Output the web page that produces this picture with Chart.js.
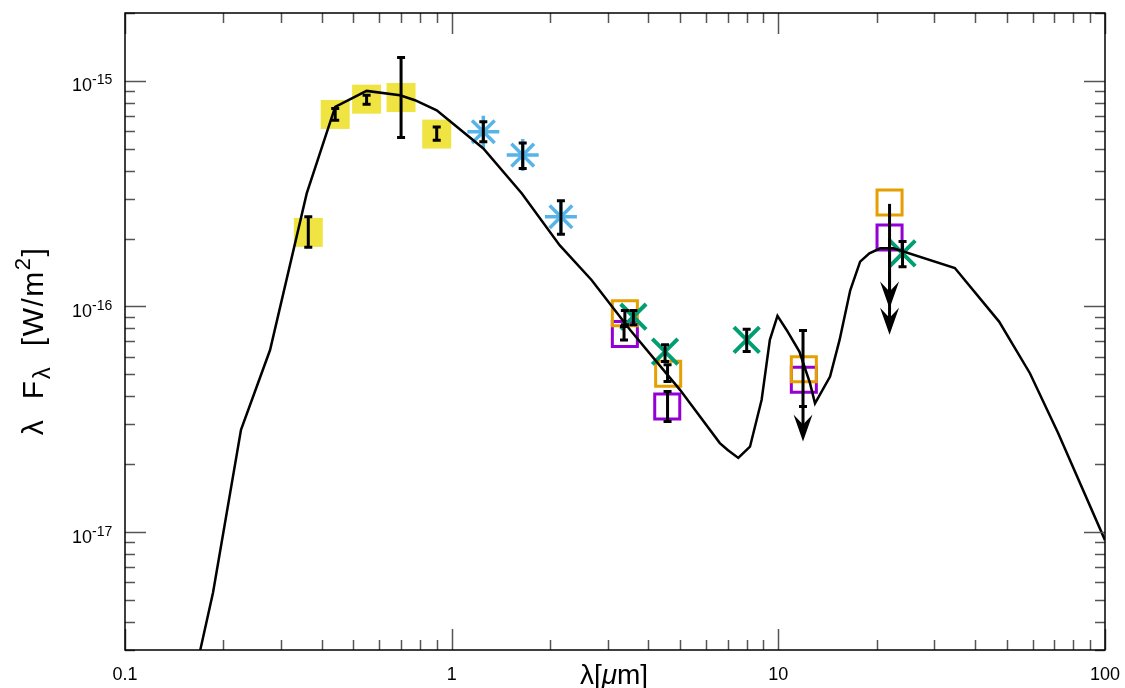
<!DOCTYPE html>
<html>
<head>
<meta charset="utf-8">
<script src="https://cdn.jsdelivr.net/npm/chart.js@4.4.0/dist/chart.umd.min.js"></script>
<style>
  html, body { margin: 0; padding: 0; background: #fff; }
  #wrap { width: 1125px; height: 688px; }
</style>
</head>
<body>
<div id="wrap"><canvas id="sedChart" width="1125" height="688"></canvas></div>
<script>
// model SED (black line), wavelength in micron, lambda F_lambda in W/m^2
var modelWave = [0.170, 0.186, 0.2265, 0.278, 0.360, 0.440, 0.549, 0.695, 0.772, 0.900,
                 1.25, 1.64, 2.14, 2.68, 3.52, 5.00, 6.62, 7.0, 7.54, 8.19, 8.89, 9.42,
                 9.94, 10.6, 11.6, 12.5, 12.95, 14.4, 15.4, 16.6, 17.8, 19.0, 20.5, 22.5,
                 34.7, 47.4, 58.9, 71.9, 100];
var modelFlux = [3.0e-18, 5.4e-18, 2.84e-17, 6.41e-17, 3.17e-16, 7.67e-16, 9.03e-16, 8.64e-16, 8.21e-16, 7.41e-16,
                 5.02e-16, 3.17e-16, 1.87e-16, 1.31e-16, 7.87e-17, 4.27e-17, 2.48e-17, 2.31e-17, 2.13e-17, 2.39e-17, 3.86e-17, 7.11e-17,
                 9.08e-17, 7.87e-17, 6.31e-17, 4.57e-17, 3.72e-17, 4.89e-17, 7.11e-17, 1.18e-16, 1.58e-16, 1.72e-16, 1.81e-16, 1.81e-16,
                 1.48e-16, 8.57e-17, 5.06e-17, 2.74e-17, 9.2e-18];

// photometry
var opticalWave = [0.364, 0.440, 0.549, 0.700, 0.900];
var opticalFlux = [2.13e-16, 7.10e-16, 8.30e-16, 8.44e-16, 5.81e-16];

var nirWave = [1.25, 1.65, 2.16];
var nirFlux = [5.95e-16, 4.69e-16, 2.50e-16];

var orangeWave = [3.39, 4.60, 11.97, 21.9];
var orangeFlux = [9.33e-17, 5.03e-17, 5.27e-17, 2.89e-16];

var purpleWave = [3.39, 4.57, 11.97, 21.9];
var purpleFlux = [7.55e-17, 3.60e-17, 4.73e-17, 2.02e-16];

var greenWave = [3.60, 4.50, 8.00, 24.0];
var greenFlux = [9.01e-17, 6.31e-17, 7.11e-17, 1.72e-16];

// error bars
var errWave = [0.364, 0.440, 0.549, 0.700, 0.900, 1.25, 1.65, 2.16,
               3.39, 3.60, 3.37, 4.50, 4.58, 4.58, 8.00, 11.9, 24.0];
var errLow  = [1.83e-16, 6.70e-16, 7.88e-16, 5.61e-16, 5.46e-16, 5.37e-16, 4.09e-16, 2.09e-16,
               8.30e-17, 8.30e-17, 7.11e-17, 5.70e-17, 4.65e-17, 3.09e-17, 6.31e-17, 3.60e-17, 1.50e-16];
var errHigh = [2.50e-16, 7.55e-16, 8.64e-16, 1.27e-15, 6.25e-16, 6.59e-16, 5.30e-16, 2.94e-16,
               9.60e-17, 9.60e-17, 8.15e-17, 6.76e-17, 5.51e-17, 4.20e-17, 7.93e-17, 7.82e-17, 1.94e-16];

// upper limits (arrows)
var limWave = [11.9, 21.9, 21.9];
var limTop  = [3.60e-17, 2.85e-16, 2.00e-16];
var limTip  = [2.52e-17, 9.8e-17, 7.5e-17];

var xTickLabels = ['0.1', '1', '10', '100'];
var yTickExponents = [-15, -16, -17];

function pts(xs, ys) {
  return xs.map(function(x, i) { return {x: x, y: ys[i]}; });
}

var FONT = '"Liberation Sans", Arial, Helvetica, sans-serif';

var errorBars = {
  id: 'errorBars',
  afterDatasetsDraw: function(chart) {
    var ctx = chart.ctx, xs = chart.scales.x, ys = chart.scales.y;
    ctx.save();
    ctx.strokeStyle = '#000';
    ctx.fillStyle = '#000';
    ctx.lineWidth = 3;
    errWave.forEach(function(w, i) {
      var px = xs.getPixelForValue(w);
      var y1 = ys.getPixelForValue(errHigh[i]);
      var y2 = ys.getPixelForValue(errLow[i]);
      ctx.beginPath();
      ctx.moveTo(px, y1); ctx.lineTo(px, y2);
      ctx.moveTo(px - 4, y1); ctx.lineTo(px + 4, y1);
      ctx.moveTo(px - 4, y2); ctx.lineTo(px + 4, y2);
      ctx.stroke();
    });
    limWave.forEach(function(w, i) {
      var px = xs.getPixelForValue(w);
      var y1 = ys.getPixelForValue(limTop[i]);
      var yt = ys.getPixelForValue(limTip[i]);
      ctx.beginPath();
      ctx.moveTo(px, y1); ctx.lineTo(px, yt - 10);
      ctx.stroke();
      ctx.beginPath();
      ctx.moveTo(px, yt);
      ctx.lineTo(px - 9.5, yt - 27);
      ctx.lineTo(px, yt - 17);
      ctx.lineTo(px + 9.5, yt - 27);
      ctx.closePath();
      ctx.fill();
    });
    ctx.restore();
  }
};

var frameAxes = {
  id: 'frameAxes',
  afterDraw: function(chart) {
    var ctx = chart.ctx, a = chart.chartArea, xs = chart.scales.x, ys = chart.scales.y;
    ctx.save();
    ctx.strokeStyle = '#555';
    ctx.lineWidth = 1.5;
    ctx.beginPath();
    for (var d = -1; d <= 2; d++) {
      for (var m = 1; m <= 9; m++) {
        var v = m * Math.pow(10, d);
        if (v < xs.min * 0.999 || v > xs.max * 1.001) continue;
        var px = Math.round(xs.getPixelForValue(v)) + 0.5;
        var len = m === 1 ? 21 : 10;
        ctx.moveTo(px, a.bottom); ctx.lineTo(px, a.bottom - len);
        ctx.moveTo(px, a.top); ctx.lineTo(px, a.top + len);
      }
    }
    for (var e = -18; e <= -15; e++) {
      for (var k = 1; k <= 9; k++) {
        var val = k * Math.pow(10, e);
        if (val < ys.min * 0.999 || val > ys.max * 1.001) continue;
        var py = Math.round(ys.getPixelForValue(val)) + 0.5;
        var l2 = k === 1 ? 21 : 10;
        ctx.moveTo(a.left, py); ctx.lineTo(a.left + l2, py);
        ctx.moveTo(a.right, py); ctx.lineTo(a.right - l2, py);
      }
    }
    ctx.stroke();

    ctx.strokeStyle = '#000';
    ctx.lineWidth = 1.5;
    ctx.strokeRect(a.left, a.top, a.right - a.left, a.bottom - a.top);

    // tick labels
    ctx.fillStyle = '#000';
    ctx.textAlign = 'center';
    ctx.textBaseline = 'alphabetic';
    ctx.font = '18px ' + FONT;
    xTickLabels.forEach(function(t) {
      ctx.fillText(t, xs.getPixelForValue(parseFloat(t)), 680);
    });
    ctx.textAlign = 'left';
    yTickExponents.forEach(function(p) {
      var py = ys.getPixelForValue(Math.pow(10, p));
      ctx.font = '18px ' + FONT;
      ctx.fillText('10', 72, py + 10.5);
      var w = ctx.measureText('10').width;
      ctx.font = '14px ' + FONT;
      ctx.fillText(String(p), 72 + w, py + 3.5);
    });

    // x title: λ[μm]
    var parts = [['λ[', 'normal'], ['μ', 'italic'], ['m]', 'normal']];
    var total = 0;
    parts.forEach(function(pt) { ctx.font = pt[1] + ' 28px ' + FONT; total += ctx.measureText(pt[0]).width; });
    var x0 = 614 - total / 2;
    parts.forEach(function(pt) {
      ctx.font = pt[1] + ' 28px ' + FONT;
      ctx.fillText(pt[0], x0, 684);
      x0 += ctx.measureText(pt[0]).width;
    });

    // y title: λ F_λ [W/m²]
    var yp = [['λ  F', 30, 0], ['λ', 24, 7], ['  [W/m', 30, 0], ['2', 22, -13], [']', 30, 0]];
    ctx.letterSpacing = '1.5px';
    var tw = 0;
    yp.forEach(function(pt) { ctx.font = pt[1] + 'px ' + FONT; tw += ctx.measureText(pt[0]).width; });
    ctx.translate(43, 341);
    ctx.rotate(-Math.PI / 2);
    var sx = -tw / 2;
    yp.forEach(function(pt) {
      ctx.font = pt[1] + 'px ' + FONT;
      ctx.fillText(pt[0], sx, pt[2]);
      sx += ctx.measureText(pt[0]).width;
    });
    ctx.restore();
  }
};

var ctx = document.getElementById('sedChart').getContext('2d');
var sedChart = new Chart(ctx, {
  type: 'scatter',
  data: {
    datasets: [
      {
        label: 'model',
        type: 'line',
        data: pts(modelWave, modelFlux),
        borderColor: '#000',
        borderWidth: 2.5,
        pointRadius: 0,
        tension: 0,
        fill: false,
        order: 0
      },
      {
        label: 'optical',
        data: pts(opticalWave, opticalFlux),
        pointStyle: 'rect',
        pointRadius: 20.5,
        pointBackgroundColor: '#f0e442',
        pointBorderWidth: 0,
        order: 5
      },
      {
        label: 'near-IR',
        data: pts(nirWave, nirFlux),
        pointStyle: 'star',
        pointRadius: 16,
        pointBorderColor: '#56b4e9',
        pointBorderWidth: 3.5,
        order: 1
      },
      {
        label: 'orange',
        data: pts(orangeWave, orangeFlux),
        pointStyle: 'rect',
        pointRadius: 17.7,
        pointBackgroundColor: 'rgba(0,0,0,0)',
        pointBorderColor: '#e69f00',
        pointBorderWidth: 3,
        order: 3
      },
      {
        label: 'purple',
        data: pts(purpleWave, purpleFlux),
        pointStyle: 'rect',
        pointRadius: 17.7,
        pointBackgroundColor: 'rgba(0,0,0,0)',
        pointBorderColor: '#9400d3',
        pointBorderWidth: 3,
        order: 4
      },
      {
        label: 'green',
        data: pts(greenWave, greenFlux),
        pointStyle: 'crossRot',
        pointRadius: 18,
        pointBorderColor: '#009e73',
        pointBorderWidth: 4,
        order: 2
      }
    ]
  },
  options: {
    responsive: false,
    devicePixelRatio: 1,
    animation: false,
    events: [],
    layout: { autoPadding: false, padding: { left: 125, right: 20, top: 13, bottom: 38 } },
    plugins: { legend: { display: false }, tooltip: { enabled: false } },
    scales: {
      x: { type: 'logarithmic', min: 0.1, max: 100, display: false },
      y: { type: 'logarithmic', min: 3e-18, max: 2e-15, display: false }
    }
  },
  plugins: [errorBars, frameAxes]
});
</script>
</body>
</html>
